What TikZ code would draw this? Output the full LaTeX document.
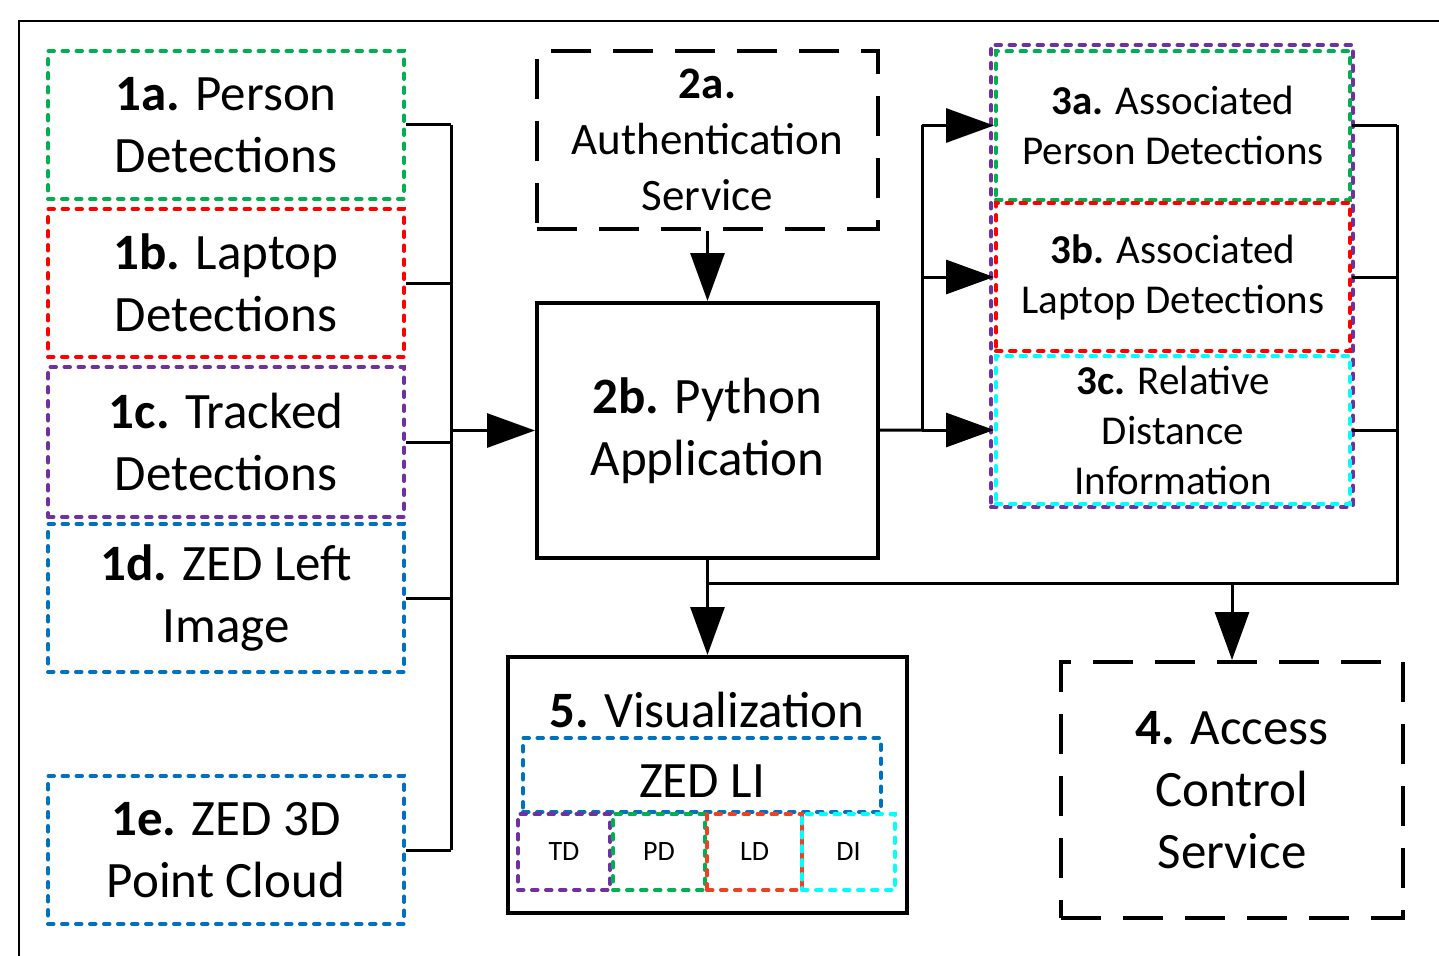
\documentclass[tikz,border=0pt]{standalone}
\usepackage{fontspec}
\setmainfont{Carlito}
\usetikzlibrary{arrows.meta}
\definecolor{pdgreen}{RGB}{0,176,80}
\definecolor{ldred}{RGB}{255,0,0}
\definecolor{ldorange}{RGB}{238,64,36}
\definecolor{tdpurple}{RGB}{112,48,160}
\definecolor{zedblue}{RGB}{0,112,192}
\definecolor{dicyan}{RGB}{0,255,255}
\newcommand{\hugetext}{\fontsize{51}{62}\selectfont}
\newcommand{\midtext}{\fontsize{45}{56}\selectfont}
\newcommand{\smalltext}{\fontsize{41}{50}\selectfont}
\newcommand{\tinytext}{\fontsize{28}{34}\selectfont}

\begin{document}
\begin{tikzpicture}[>={Triangle[length=48pt,width=34pt]}, x=1pt, y=-1pt,
    every node/.style={align=center, inner sep=0pt},
    src/.style={draw=#1, line width=4pt, dash pattern=on 5.5pt off 8.5pt, line cap=round,
        minimum width=356pt, minimum height=148pt, font=\hugetext},
    result/.style={src=#1, minimum width=354pt, font=\smalltext},
    tile/.style={draw=#1, line width=4pt, dash pattern=on 5.5pt off 8.5pt, line cap=round,
        minimum height=76pt, font=\tinytext},
    service/.style={draw, line width=4pt, dash pattern=on 40pt off 22pt},
    block/.style={draw, line width=4pt},
    wire/.style={line width=3pt}]
            \useasboundingbox (0,0) rectangle (1439,955);
            \draw[line width=2pt] (19,975) |- (1460,21);

            \node[src=pdgreen] (pers) at (226,125) {\textbf{1a.} Person\\Detections};
            \node[src=ldred] (lapt) at (226,283) {\textbf{1b.} Laptop\\Detections};
            \node[src=tdpurple, minimum height=150pt] (trck) at (226,442) {\textbf{1c.} Tracked\\Detections};
            \node[src=zedblue] (zedimg) at (226,598) {\textbf{1d.} ZED Left\\Image};
            \node[src=zedblue] (cloud) at (226,850) {\textbf{1e.} ZED 3D\\Point Cloud};

            \node[service, minimum width=341pt, minimum height=178pt, font=\midtext] (auth) at (707.5,140)
                {\textbf{2a.}\\Authentication\\Service};
            \node[block, minimum width=341pt, minimum height=255pt, font=\hugetext] (app) at (707.5,430.5)
                {\textbf{2b.} Python\\Application};

            \node[src=tdpurple, minimum width=362pt, minimum height=462pt] (assoc) at (1172,276) {};
            \node[result=pdgreen] (apd) at (1173,125.5) {\textbf{3a.} Associated\\Person Detections};
            \node[result=ldred] (ald) at (1173,277) {\textbf{3b.} Associated\\Laptop Detections};
            \node[result=dicyan] (rdi) at (1173,430) {\textbf{3c.} Relative\\Distance\\Information};

            \node[service, minimum width=342pt, minimum height=256pt, font=\hugetext] (acs) at (1232,790)
                {\textbf{4.} Access\\Control\\Service};

            \node[block, minimum width=399pt, minimum height=256pt] (viz) at (707.5,785) {};
            \node[font=\hugetext, anchor=base] (vizt) at (707,727) {\textbf{5.} Visualization};
            \node[tile=zedblue, minimum width=358pt, minimum height=74pt, font=\hugetext, text height=45pt] (zedli) at (702,775) {ZED LI};
            \node[tile=tdpurple, minimum width=92pt] (td) at (564,852) {TD};
            \node[tile=pdgreen, minimum width=92pt] (pd) at (659,852) {PD};
            \node[tile=ldorange, minimum width=95pt] (ld) at (754.5,852) {LD};
            \node[tile=dicyan, minimum width=93pt] (di) at (848.5,852) {DI};

            \coordinate (j1a) at (451,125);
            \coordinate (j1b) at (451,283);
            \coordinate (j1c) at (451,442);
            \coordinate (j1d) at (451,598);
            \coordinate (j1e) at (451,850);
            \coordinate (jin) at (451,430.5);
            \coordinate (jout) at (922,430);
            \coordinate (j3a) at (922,125.5);
            \coordinate (j3b) at (922,277);
            \coordinate (k3a) at (1397,125.5);
            \coordinate (k3b) at (1397,277);
            \coordinate (k3c) at (1397,430);
            \coordinate (kbus) at (1397,583);
            \coordinate (kviz) at (707.5,583);
            \coordinate (kacs) at (1232,583);

            \path[wire]
                (pers) edge (j1a)
                (lapt) edge (j1b)
                (trck) edge (j1c)
                (zedimg) edge (j1d)
                (cloud) edge (j1e)
                (j1a) edge (j1e)
                (app) edge (jout)
                (j3a) edge (jout)
                (apd) edge (k3a)
                (ald) edge (k3b)
                (rdi) edge (k3c)
                ;
            \draw[wire] (k3a) -- (kbus) -- (kviz);

            \path[wire, ->]
                (jin) edge (app)
                (auth) edge (app)
                (j3a) edge (apd)
                (j3b) edge (ald)
                (jout) edge (rdi)
                (app) edge (viz)
                (kacs) edge (acs)
                ;
        \end{tikzpicture}
\end{document}
